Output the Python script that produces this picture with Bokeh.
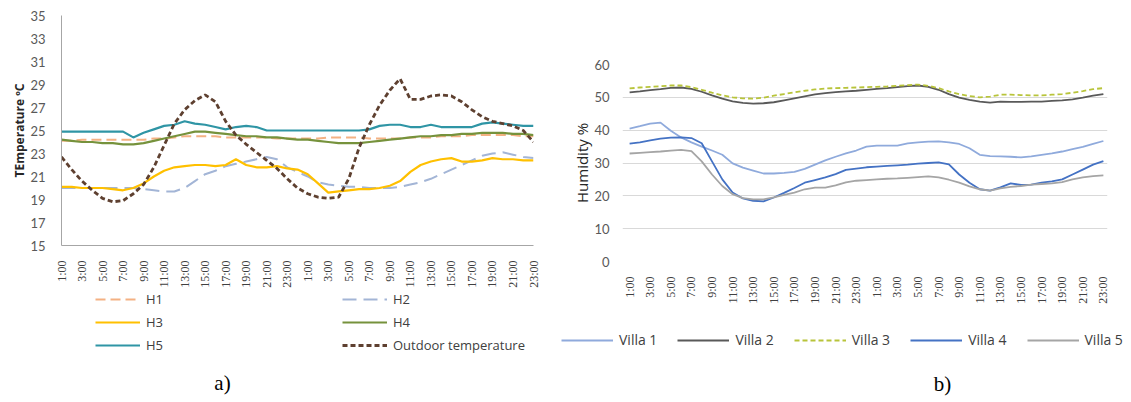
import numpy as np
from bokeh.plotting import figure
from bokeh.models import Range1d, FixedTicker, Legend, LegendItem, Label
from bokeh.layouts import row, column
from bokeh.embed import file_html
from bokeh.resources import INLINE

# ---------------- data ----------------
hours = [f"{h}:00" for h in range(1, 25)] + [f"{h}:00" for h in range(1, 24)]
xi = list(range(len(hours)))
shown_ticks = xi[::2]

temp_ticks = [15, 17, 19, 21, 23, 25, 27, 29, 31, 33, 35]
hum_ticks = [0, 10, 20, 30, 40, 50, 60]

H1 = [24.1, 24.1, 24.2, 24.2, 24.2, 24.2, 24.2, 24.2, 24.2, 24.3, 24.3, 24.4, 24.5, 24.5, 24.5, 24.5,
      24.4, 24.4, 24.4, 24.4, 24.4, 24.3, 24.3, 24.3, 24.3, 24.3, 24.4, 24.4, 24.4, 24.4, 24.3, 24.3,
      24.3, 24.3, 24.4, 24.4, 24.4, 24.5, 24.5, 24.5, 24.6, 24.6, 24.6, 24.6, 24.6, 24.5, 24.5]
H2 = [20.0, 20.0, 20.0, 20.0, 20.0, 20.0, 20.0, 20.0, 19.9, 19.8, 19.7, 19.7, 20.0, 20.6, 21.2, 21.5,
      21.9, 22.1, 22.3, 22.5, 22.7, 22.5, 21.8, 21.4, 21.0, 20.5, 20.3, 20.2, 20.1, 20.1, 20.0, 20.0,
      20.0, 20.1, 20.3, 20.5, 20.8, 21.2, 21.6, 22.0, 22.4, 22.8, 23.0, 23.1, 22.9, 22.7, 22.6]
H3 = [20.1, 20.1, 20.0, 20.0, 20.0, 19.9, 19.8, 20.0, 20.4, 21.0, 21.5, 21.8, 21.9, 22.0, 22.0, 21.9,
      22.0, 22.5, 22.0, 21.8, 21.8, 21.9, 21.7, 21.6, 21.2, 20.4, 19.6, 19.7, 19.8, 19.9, 19.9, 20.0,
      20.2, 20.6, 21.4, 22.0, 22.3, 22.5, 22.6, 22.3, 22.3, 22.4, 22.6, 22.5, 22.5, 22.4, 22.4]
H4 = [24.2, 24.1, 24.0, 24.0, 23.9, 23.9, 23.8, 23.8, 23.9, 24.1, 24.3, 24.5, 24.7, 24.9, 24.9, 24.8,
      24.7, 24.6, 24.5, 24.5, 24.4, 24.4, 24.3, 24.2, 24.2, 24.1, 24.0, 23.9, 23.9, 23.9, 24.0, 24.1,
      24.2, 24.3, 24.4, 24.5, 24.5, 24.6, 24.6, 24.7, 24.7, 24.8, 24.8, 24.8, 24.7, 24.7, 24.6]
H5 = [24.9, 24.9, 24.9, 24.9, 24.9, 24.9, 24.9, 24.4, 24.8, 25.1, 25.4, 25.5, 25.8, 25.6, 25.5, 25.3,
      25.1, 25.3, 25.4, 25.3, 25.0, 25.0, 25.0, 25.0, 25.0, 25.0, 25.0, 25.0, 25.0, 25.0, 25.1, 25.4,
      25.5, 25.5, 25.3, 25.3, 25.5, 25.3, 25.3, 25.3, 25.3, 25.6, 25.7, 25.6, 25.5, 25.4, 25.4]
OUTDOOR = [22.7, 21.6, 20.6, 19.8, 19.1, 18.8, 18.9, 19.5, 20.3, 21.8, 23.7, 25.6, 26.8, 27.6, 28.1, 27.5,
           25.8, 24.6, 23.8, 23.1, 22.4, 21.7, 20.8, 20.0, 19.5, 19.2, 19.1, 19.2, 20.8, 23.5, 25.5, 27.2,
           28.5, 29.5, 27.7, 27.7, 28.0, 28.1, 28.0, 27.5, 26.8, 26.2, 25.8, 25.6, 25.4, 25.0, 24.0]

VILLA1 = [40.5, 41.2, 42.0, 42.3, 39.8, 37.8, 36.3, 35.0, 33.8, 32.5, 29.9, 28.6, 27.7, 26.8, 26.8, 27.0,
          27.3, 28.2, 29.5, 30.8, 31.9, 32.9, 33.8, 35.0, 35.3, 35.3, 35.3, 36.0, 36.3, 36.5, 36.6, 36.3,
          35.8, 34.5, 32.5, 32.1, 32.0, 31.9, 31.7, 32.0, 32.5, 32.9, 33.5, 34.2, 34.9, 35.8, 36.7]
VILLA2 = [51.5, 51.8, 52.2, 52.5, 52.9, 53.0, 52.6, 51.7, 50.6, 49.6, 48.8, 48.3, 48.1, 48.2, 48.5, 49.1,
          49.7, 50.3, 50.9, 51.3, 51.6, 51.8, 52.0, 52.3, 52.6, 52.8, 53.1, 53.4, 53.6, 53.2, 52.3, 51.0,
          49.9, 49.2, 48.7, 48.4, 48.7, 48.6, 48.6, 48.7, 48.7, 48.9, 49.1, 49.4, 49.9, 50.5, 51.0]
VILLA3 = [52.7, 53.0, 53.2, 53.4, 53.6, 53.6, 53.1, 52.3, 51.4, 50.6, 50.0, 49.7, 49.6, 49.9, 50.5, 51.0,
          51.5, 52.0, 52.4, 52.7, 52.8, 52.9, 53.0, 53.1, 53.2, 53.3, 53.5, 53.7, 53.9, 53.5, 52.8, 51.8,
          51.0, 50.4, 50.0, 50.2, 50.8, 50.8, 50.7, 50.6, 50.6, 50.8, 51.0, 51.4, 51.9, 52.5, 52.8]
VILLA4 = [35.9, 36.3, 36.9, 37.4, 37.7, 37.8, 37.6, 36.0, 30.5, 25.0, 21.0, 19.2, 18.5, 18.3, 19.5, 20.9,
          22.4, 24.0, 24.8, 25.6, 26.6, 27.9, 28.3, 28.7, 28.9, 29.1, 29.3, 29.5, 29.8, 30.0, 30.2, 29.6,
          26.5, 24.0, 22.0, 21.6, 22.6, 23.8, 23.3, 23.4, 24.0, 24.4, 25.0, 26.5, 28.0, 29.5, 30.6]
VILLA5 = [32.9, 33.1, 33.3, 33.5, 33.8, 34.0, 33.6, 30.5, 26.5, 23.0, 20.5, 19.3, 18.9, 18.9, 19.5, 20.3,
          21.0, 22.0, 22.5, 22.5, 23.2, 24.1, 24.6, 24.8, 25.0, 25.2, 25.3, 25.5, 25.7, 25.9, 25.6, 24.9,
          24.0, 22.9, 22.0, 21.6, 22.3, 22.7, 23.0, 23.4, 23.6, 23.8, 24.2, 25.0, 25.6, 26.0, 26.2]

SANS = "Open Sans"
TICKF = "Lato"
SERIF = "Liberation Serif"

STYLE_H = {
    "H1": dict(line_color="#F4B183", line_width=2, line_dash="10 5"),
    "H2": dict(line_color="#A3B5D6", line_width=2, line_dash="14 7"),
    "H3": dict(line_color="#FFC000", line_width=2.2),
    "H4": dict(line_color="#76923C", line_width=2.2),
    "H5": dict(line_color="#2F95A5", line_width=2.2),
    "Outdoor temperature": dict(line_color="#5E4030", line_width=2.8, line_dash="5 3"),
}
STYLE_V = {
    "Villa 1": dict(line_color="#8FAADC", line_width=1.8),
    "Villa 2": dict(line_color="#595959", line_width=1.8),
    "Villa 3": dict(line_color="#B8C43A", line_width=1.8, line_dash="5 3"),
    "Villa 4": dict(line_color="#4472C4", line_width=1.8),
    "Villa 5": dict(line_color="#A5A5A5", line_width=1.8),
}


def style_common(p):
    p.frame_align = False
    p.outline_line_color = None
    p.background_fill_color = "white"
    p.border_fill_color = "white"
    for ax in (p.xaxis, p.yaxis):
        ax.major_tick_line_color = None
        ax.minor_tick_line_color = None
    p.xaxis.ticker = FixedTicker(ticks=shown_ticks)
    p.xaxis.major_label_overrides = {i: hours[i] for i in shown_ticks}
    p.xaxis.major_label_orientation = np.pi / 2
    p.xaxis.major_label_text_font = SERIF
    p.xaxis.major_label_text_font_size = "12px"
    p.xaxis.major_label_text_color = "#404040"
    p.xaxis.major_label_standoff = 9
    p.yaxis.major_label_text_font = TICKF
    p.yaxis.major_label_text_font_size = "13px"
    p.yaxis.major_label_text_color = "#595959"
    p.xgrid.visible = False


def legend_fig(width, height):
    # the series are drawn here too, but out of this strip's view: only their legend shows
    f = figure(width=width, height=height, x_range=Range1d(0, 1), y_range=Range1d(100, 101),
               output_backend="svg", toolbar_location=None,
               min_border=0, min_border_left=0, min_border_right=0,
               min_border_top=0, min_border_bottom=0)
    f.frame_align = False
    f.axis.visible = False
    f.grid.visible = False
    f.outline_line_color = None
    f.background_fill_color = "white"
    f.border_fill_color = "white"
    return f


def mk_legend(items, loc, orientation="vertical", font_size="13px", glyph_w=45,
              spacing=5, standoff=6):
    return Legend(items=items, location=loc, orientation=orientation,
                  glyph_width=glyph_w, glyph_height=18, label_height=18,
                  spacing=spacing, padding=0, margin=0, label_standoff=standoff,
                  border_line_color=None, background_fill_alpha=0,
                  label_text_font=SANS, label_text_font_size=font_size,
                  label_text_color="#404040")


# ---------------- chart a ----------------
p1 = figure(width=561, height=290, x_range=Range1d(0, 46), y_range=Range1d(15, 35),
            output_backend="svg", toolbar_location=None,
            min_border_left=61, min_border_right=28, min_border_top=15, min_border_bottom=39)
style_common(p1)
p1.ygrid.visible = False
p1.yaxis.ticker = FixedTicker(ticks=temp_ticks)
p1.xaxis.axis_line_color = "#A6A6A6"
p1.yaxis.axis_line_color = "#A6A6A6"
p1.yaxis.major_label_standoff = 10
p1.yaxis.axis_label = "TEmperature ºC"
p1.yaxis.axis_label_text_font = SANS
p1.yaxis.axis_label_text_font_size = "12px"
p1.yaxis.axis_label_text_font_style = "bold"
p1.yaxis.axis_label_text_color = "#262626"
p1.yaxis.axis_label_standoff = -1

series_a = [("H1", H1), ("H2", H2), ("H3", H3), ("H4", H4), ("H5", H5),
            ("Outdoor temperature", OUTDOOR)]
for name, ys in series_a:
    p1.line(xi, ys, **STYLE_H[name])

# legend strip under chart a
l1 = legend_fig(561, 110)
lr = {name: l1.line(xi, ys, **STYLE_H[name]) for name, ys in series_a}
l1.add_layout(mk_legend([LegendItem(label=n, renderers=[lr[n]]) for n in ("H1", "H3", "H5")],
                        (95, 46)))
l1.add_layout(mk_legend([LegendItem(label=n, renderers=[lr[n]])
                         for n in ("H2", "H4", "Outdoor temperature")], (342, 46)))
l1.add_layout(Label(x=222, y=18, x_units="screen", y_units="screen", text="a)",
                    text_font=SERIF, text_font_size="21px", text_align="center",
                    text_baseline="middle", text_color="black"))

# ---------------- chart b ----------------
p2 = figure(width=562, height=308, x_range=Range1d(-0.69, 46.4), y_range=Range1d(0, 60),
            output_backend="svg", toolbar_location=None,
            min_border_left=61, min_border_right=16, min_border_top=64, min_border_bottom=47)
style_common(p2)
p2.yaxis.ticker = FixedTicker(ticks=hum_ticks)
p2.ygrid.grid_line_color = "#D9D9D9"
p2.xaxis.axis_line_color = None
p2.yaxis.axis_line_color = None
p2.yaxis.major_label_standoff = 7
p2.yaxis.axis_label = "Humidity %"
p2.yaxis.axis_label_text_font = SANS
p2.yaxis.axis_label_text_font_size = "15px"
p2.yaxis.axis_label_text_font_style = "normal"
p2.yaxis.axis_label_text_color = "#262626"
p2.yaxis.axis_label_standoff = -1

series_b = [("Villa 1", VILLA1), ("Villa 2", VILLA2), ("Villa 3", VILLA3),
            ("Villa 4", VILLA4), ("Villa 5", VILLA5)]
for name, ys in series_b:
    p2.line(xi, ys, **STYLE_V[name])

l2 = legend_fig(562, 92)
vr = {name: l2.line(xi, ys, **STYLE_V[name]) for name, ys in series_b}
l2.add_layout(mk_legend([LegendItem(label=n, renderers=[vr[n]]) for n, _ in series_b],
                        (0, 51), orientation="horizontal", font_size="14px",
                        glyph_w=52, spacing=20, standoff=6))
l2.add_layout(Label(x=381, y=17, x_units="screen", y_units="screen", text="b)",
                    text_font=SERIF, text_font_size="21px", text_align="center",
                    text_baseline="middle", text_color="black"))

layout = row(column(p1, l1, spacing=0), column(p2, l2, spacing=0), spacing=0)
open("out.html", "w").write(file_html(layout, INLINE))
